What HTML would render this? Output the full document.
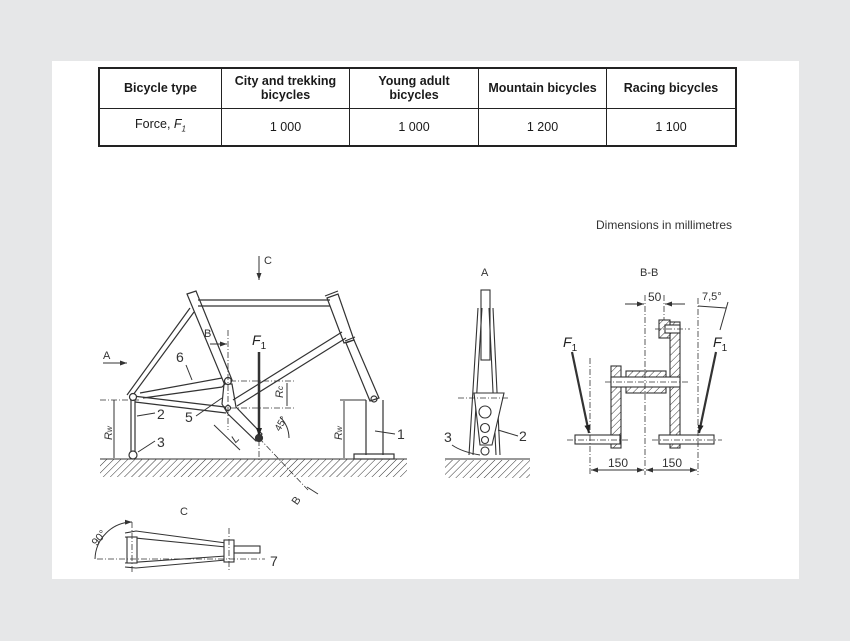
<!DOCTYPE html>
<html><head><meta charset="utf-8"><style>
body{margin:0;background:#e6e7e8;width:850px;height:641px;overflow:hidden;font-family:"Liberation Sans",Arial,sans-serif}
#pg{position:absolute;left:52px;top:61px;width:747px;height:518px;background:#fff}
table{position:absolute;left:98px;top:67px;border-collapse:collapse;border:2px solid #222;font-size:12.5px;color:#1a1a1a}
td{border:1px solid #222;text-align:center;padding:0;line-height:14px}
svg{position:absolute;left:0;top:0}
</style></head><body>
<div id="pg"></div>
<table>
<tr style="height:40px;font-weight:bold"><td style="width:121px">Bicycle type</td><td style="width:127px">City and trekking<br>bicycles</td><td style="width:128px">Young adult<br>bicycles</td><td style="width:127px">Mountain bicycles</td><td style="width:128px">Racing bicycles</td></tr>
<tr style="height:38px"><td>Force, <i>F</i><sub style="font-size:8px"><i>1</i></sub></td><td>1 000</td><td>1 000</td><td>1 200</td><td>1 100</td></tr>
</table>
<svg width="850" height="641" viewBox="0 0 850 641" font-family="Liberation Sans,Arial,sans-serif" fill="none" stroke="#333" stroke-width="1">
<defs>
<pattern id="h" width="5" height="5" patternUnits="userSpaceOnUse" patternTransform="rotate(45)"><line x1="0" y1="0" x2="0" y2="5" stroke="#333" stroke-width="1"/></pattern>
<marker id="a" markerUnits="userSpaceOnUse" markerWidth="7" markerHeight="5" refX="7" refY="2.5" orient="auto"><path d="M0,0L7,2.5L0,5z" fill="#333" stroke="none"/></marker>
<marker id="b" markerUnits="userSpaceOnUse" markerWidth="8" markerHeight="6" refX="8" refY="3" orient="auto"><path d="M0,0L8,3L0,6z" fill="#222" stroke="none"/></marker>
</defs>
<text x="596" y="229" font-size="12" fill="#333" stroke="none">Dimensions in millimetres</text>
<rect x="100" y="459" width="307" height="18" fill="url(#h)" stroke="none"/>
<line x1="100" y1="459" x2="407" y2="459"/>
<line x1="259" y1="256" x2="259" y2="280" marker-end="url(#a)"/>
<text x="264" y="264" font-size="11" fill="#333" stroke="none">C</text>
<g stroke-width="1.2">
<path d="M187,294 L196,291 L232,380 L224,383 Z"/>
<path d="M198,300 L330,300 M198,306 L330,306"/>
<path d="M327,298 L338,294 L354,340 L344,343 Z"/>
<path d="M325,296 L338,291 M345,341 L355,337"/>
<path d="M346,343 L354,340 L379,398 L370,401 Z"/>
<circle cx="374" cy="399" r="3"/>
<path d="M342,332 L233,400 M346,338 L237,406"/>
<path d="M190,308 L127,395 M194,312 L133,395"/>
<path d="M133,396 L225,407 M135,402 L226,413"/>
<path d="M140,393 L222,378 M143,398 L222,387 L228,381"/>
<path d="M224,384 L232,384 L236,407 L262,434 L256,441 L228,414 L222,404 Z"/>
<circle cx="228" cy="381" r="3.5" fill="#fff"/>
<circle cx="228" cy="408" r="2.5"/>
<circle cx="259" cy="438" r="3.5" fill="#333"/>
<circle cx="133" cy="397" r="3.5" fill="#fff"/>
<path d="M131,400 L131,452 M135,400 L135,452"/>
<circle cx="133" cy="455" r="4" fill="#fff"/>
<path d="M366,400 L366,455 M383,400 L383,455"/>
<rect x="354" y="454" width="40" height="5"/>
</g>
<line x1="259" y1="352" x2="259" y2="436" stroke-width="2.5" marker-end="url(#b)"/>
<text x="252" y="345" font-size="14" font-style="italic" fill="#222" stroke="none">F<tspan font-size="10" dy="4" font-style="normal">1</tspan></text>
<g stroke-dasharray="6,2,1,2" stroke-width="0.8">
<line x1="228" y1="330" x2="228" y2="430"/><line x1="259" y1="440" x2="259" y2="462"/>
<line x1="230" y1="381" x2="295" y2="381"/><line x1="230" y1="408" x2="295" y2="408"/>
<line x1="259" y1="438" x2="308" y2="490"/>
<line x1="100" y1="400" x2="140" y2="400"/>
</g>
<line x1="210" y1="344" x2="227" y2="344" marker-end="url(#a)"/>
<text x="204" y="337" font-size="11" fill="#333" stroke="none">B</text>
<line x1="307" y1="487" x2="318" y2="494"/>
<text x="292" y="504" font-size="11" fill="#333" stroke="none" transform="rotate(-55 296 500)">B</text>
<line x1="103" y1="363" x2="127" y2="363" marker-end="url(#a)"/>
<text x="103" y="359" font-size="11" fill="#333" stroke="none">A</text>
<line x1="287" y1="383" x2="287" y2="406"/>
<text x="283" y="398" font-size="11" font-style="italic" fill="#333" stroke="none" transform="rotate(-90 283 398)">R<tspan font-size="8">c</tspan></text>
<path d="M259,438 m30,0 A30,30 0 0 0 280,417"/>
<text x="273" y="430" font-size="10" fill="#333" stroke="none" transform="rotate(-60 278 425)">45°</text>
<line x1="214" y1="425" x2="240" y2="450"/>
<text x="232" y="445" font-size="11" font-style="italic" fill="#333" stroke="none" transform="rotate(-45 232 440)">L</text>
<line x1="114" y1="400" x2="114" y2="458"/>
<text x="112" y="440" font-size="11" font-style="italic" fill="#333" stroke="none" transform="rotate(-90 112 440)">R<tspan font-size="8">w</tspan></text>
<line x1="344" y1="401" x2="344" y2="458"/><line x1="340" y1="400" x2="366" y2="400"/>
<text x="342" y="440" font-size="11" font-style="italic" fill="#333" stroke="none" transform="rotate(-90 342 440)">R<tspan font-size="8">w</tspan></text>
<g font-size="14" fill="#333" stroke="none">
<text x="176" y="362">6</text><text x="157" y="419">2</text><text x="157" y="447">3</text><text x="185" y="422">5</text><text x="397" y="439">1</text>
</g>
<line x1="186" y1="365" x2="192" y2="380"/><line x1="155" y1="413" x2="137" y2="416"/><line x1="155" y1="441" x2="138" y2="452"/><line x1="196" y1="416" x2="222" y2="398"/><line x1="395" y1="434" x2="375" y2="431"/>
<text x="481" y="276" font-size="11" fill="#333" stroke="none">A</text>
<g stroke-width="1.1">
<rect x="481" y="290" width="9" height="70"/>
<path d="M478,308 L469,455 M482,308 L473,455 M493,308 L500,455 M489,308 L496,455"/>
<path d="M474,393 L504,393 L492,445 L480,445 Z" fill="#fff"/>
<circle cx="485" cy="412" r="6"/><circle cx="485" cy="428" r="4.5"/><circle cx="485" cy="440" r="3.5"/>
<circle cx="485" cy="451" r="4" fill="#fff"/>
</g>
<line x1="458" y1="398" x2="508" y2="398" stroke-dasharray="6,2,1,2" stroke-width="0.8"/>
<rect x="445" y="460" width="85" height="18" fill="url(#h)" stroke="none"/>
<line x1="445" y1="459" x2="530" y2="459"/>
<text x="444" y="442" font-size="14" fill="#333" stroke="none">3</text><text x="519" y="441" font-size="14" fill="#333" stroke="none">2</text>
<path d="M452,445 Q462,452 480,455"/><line x1="518" y1="436" x2="498" y2="430"/>
<text x="640" y="276" font-size="11" fill="#333" stroke="none">B-B</text>
<g stroke-width="1.1">
<rect x="611" y="366" width="10" height="82" fill="url(#h)"/>
<rect x="670" y="322" width="10" height="126" fill="url(#h)"/>
<rect x="626" y="371" width="40" height="22" fill="url(#h)"/>
<rect x="611" y="377" width="69" height="10" fill="#fff"/>
<rect x="575" y="435" width="45" height="9" fill="#fff"/>
<rect x="659" y="435" width="55" height="9" fill="#fff"/>
<rect x="659" y="320" width="11" height="18" fill="url(#h)"/>
<rect x="665" y="325" width="15" height="8" fill="#fff"/>
</g>
<g stroke-dasharray="6,2,1,2" stroke-width="0.8">
<line x1="645" y1="295" x2="645" y2="475"/><line x1="590" y1="358" x2="590" y2="475"/><line x1="698" y1="298" x2="698" y2="475"/>
<line x1="605" y1="382" x2="690" y2="382"/><line x1="567" y1="440" x2="628" y2="440"/><line x1="652" y1="440" x2="722" y2="440"/><line x1="655" y1="329" x2="690" y2="329"/>
<line x1="664" y1="295" x2="664" y2="320"/>
</g>
<line x1="572" y1="352" x2="589" y2="433" stroke-width="2.2" marker-end="url(#b)"/>
<line x1="716" y1="352" x2="699" y2="433" stroke-width="2.2" marker-end="url(#b)"/>
<text x="563" y="347" font-size="14" font-style="italic" fill="#222" stroke="none">F<tspan font-size="10" dy="4" font-style="normal">1</tspan></text>
<text x="713" y="347" font-size="14" font-style="italic" fill="#222" stroke="none">F<tspan font-size="10" dy="4" font-style="normal">1</tspan></text>
<line x1="591" y1="470" x2="644" y2="470" marker-end="url(#a)"/><line x1="644" y1="470" x2="591" y2="470" marker-end="url(#a)"/>
<line x1="646" y1="470" x2="697" y2="470" marker-end="url(#a)"/><line x1="697" y1="470" x2="646" y2="470" marker-end="url(#a)"/>
<text x="608" y="467" font-size="12" fill="#333" stroke="none">150</text><text x="662" y="467" font-size="12" fill="#333" stroke="none">150</text>
<line x1="625" y1="304" x2="644" y2="304" marker-end="url(#a)"/><line x1="685" y1="304" x2="665" y2="304" marker-end="url(#a)"/>
<text x="648" y="301" font-size="12" fill="#333" stroke="none">50</text>
<line x1="698" y1="306" x2="726" y2="308"/><line x1="728" y1="302" x2="720" y2="330"/>
<text x="702" y="300" font-size="11" fill="#333" stroke="none">7,5°</text>
<text x="180" y="515" font-size="11" fill="#333" stroke="none">C</text>
<g stroke-width="1.1">
<path d="M125,533 L136,531 L226,543 M125,537 L226,547"/>
<path d="M125,563 L226,556 M125,567 L136,568 L226,560"/>
<rect x="127" y="537" width="10" height="26" fill="#fff"/>
<rect x="224" y="540" width="10" height="22" fill="#fff"/>
<rect x="234" y="546" width="26" height="7"/>
</g>
<g stroke-dasharray="6,2,1,2" stroke-width="0.8">
<line x1="132" y1="522" x2="132" y2="572"/><line x1="229" y1="528" x2="229" y2="570"/><line x1="97" y1="559" x2="265" y2="559"/>
</g>
<path d="M95,559 A38,38 0 0 1 132,522" marker-end="url(#a)"/>
<text x="92" y="543" font-size="11" fill="#333" stroke="none" transform="rotate(-50 98 540)">90°</text>
<text x="270" y="566" font-size="14" fill="#333" stroke="none">7</text>
</svg>
</body></html>
